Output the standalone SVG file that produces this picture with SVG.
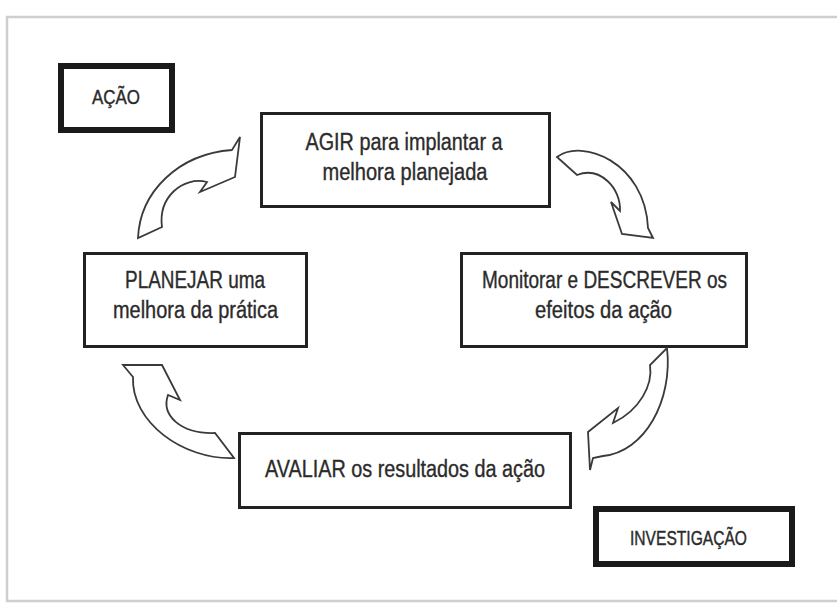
<svg xmlns="http://www.w3.org/2000/svg" width="837" height="603" viewBox="0 0 837 603">
<style>
.box{fill:#fff;stroke:#222;stroke-width:3}
.thick{fill:#fff;stroke:#1a1a1a;stroke-width:6}
.t{font-family:"Liberation Sans",Arial,sans-serif;font-size:23px;fill:#2b2b2b;stroke:#2b2b2b;stroke-width:0.35;text-anchor:middle}
.s{font-family:"Liberation Sans",Arial,sans-serif;font-size:20px;fill:#2b2b2b;stroke:#2b2b2b;stroke-width:0.4;text-anchor:middle}
.arr{fill:#fff;stroke:#3a3a3a;stroke-width:1.8;stroke-linejoin:miter}
</style>
<rect width="837" height="603" fill="#fff"/>
<path d="M837,17 L7,17 L7,601 L837,601" fill="none" stroke="#cfcfcf" stroke-width="2.5"/>
<g id="acao">
<rect class="thick" x="61" y="66" width="111" height="64"/>
<text class="s" x="116" y="104" textLength="48" lengthAdjust="spacingAndGlyphs">AÇÃO</text>
</g>
<g id="agir">
<rect class="box" x="261.5" y="113.5" width="288" height="93"/>
<text class="t" x="404" y="150" textLength="197" lengthAdjust="spacingAndGlyphs">AGIR para implantar a</text>
<text class="t" x="405" y="180" textLength="165" lengthAdjust="spacingAndGlyphs">melhora planejada</text>
</g>
<g id="planejar">
<rect class="box" x="84.5" y="253.5" width="222" height="93"/>
<text class="t" x="195" y="288" textLength="140" lengthAdjust="spacingAndGlyphs">PLANEJAR uma</text>
<text class="t" x="195.5" y="318" textLength="165" lengthAdjust="spacingAndGlyphs">melhora da prática</text>
</g>
<g id="monitorar">
<rect class="box" x="461.5" y="253.5" width="285" height="93"/>
<text class="t" x="604.5" y="288" textLength="245" lengthAdjust="spacingAndGlyphs">Monitorar e DESCREVER os</text>
<text class="t" x="603.5" y="318" textLength="137" lengthAdjust="spacingAndGlyphs">efeitos da ação</text>
</g>
<g id="avaliar">
<rect class="box" x="239.5" y="433.5" width="331" height="74"/>
<text class="t" x="405" y="477" textLength="280" lengthAdjust="spacingAndGlyphs">AVALIAR os resultados da ação</text>
</g>
<g id="investigacao">
<rect class="thick" x="596" y="509" width="196" height="55"/>
<text class="s" x="688.5" y="545" textLength="117" lengthAdjust="spacingAndGlyphs">INVESTIGAÇÃO</text>
</g>
<g id="connectors">
<path class="arr" d="M138,238 C140,192 178,154 232,150 L240,137 L235,177 L200,192 L207,182 C183,176 158,197 162,227 Z"/>
<path class="arr" d="M557,157 C582,138 645,162 648,228 L653,238 L622,234 L611,202 L620,211 C621,188 600,166 577,175 Z"/>
<path class="arr" d="M667,348 C673,400 645,452 603,456 L593,458 L590,470 L588,432 L618,408 L613,423 C640,410 653,385 650,365 Z"/>
<path class="arr" d="M234,458 C183,460 131,422 133,377 L123,365 L162,365 L180,400 L168,395 C161,415 180,434 215,433 Z"/>
</g>
</svg>
